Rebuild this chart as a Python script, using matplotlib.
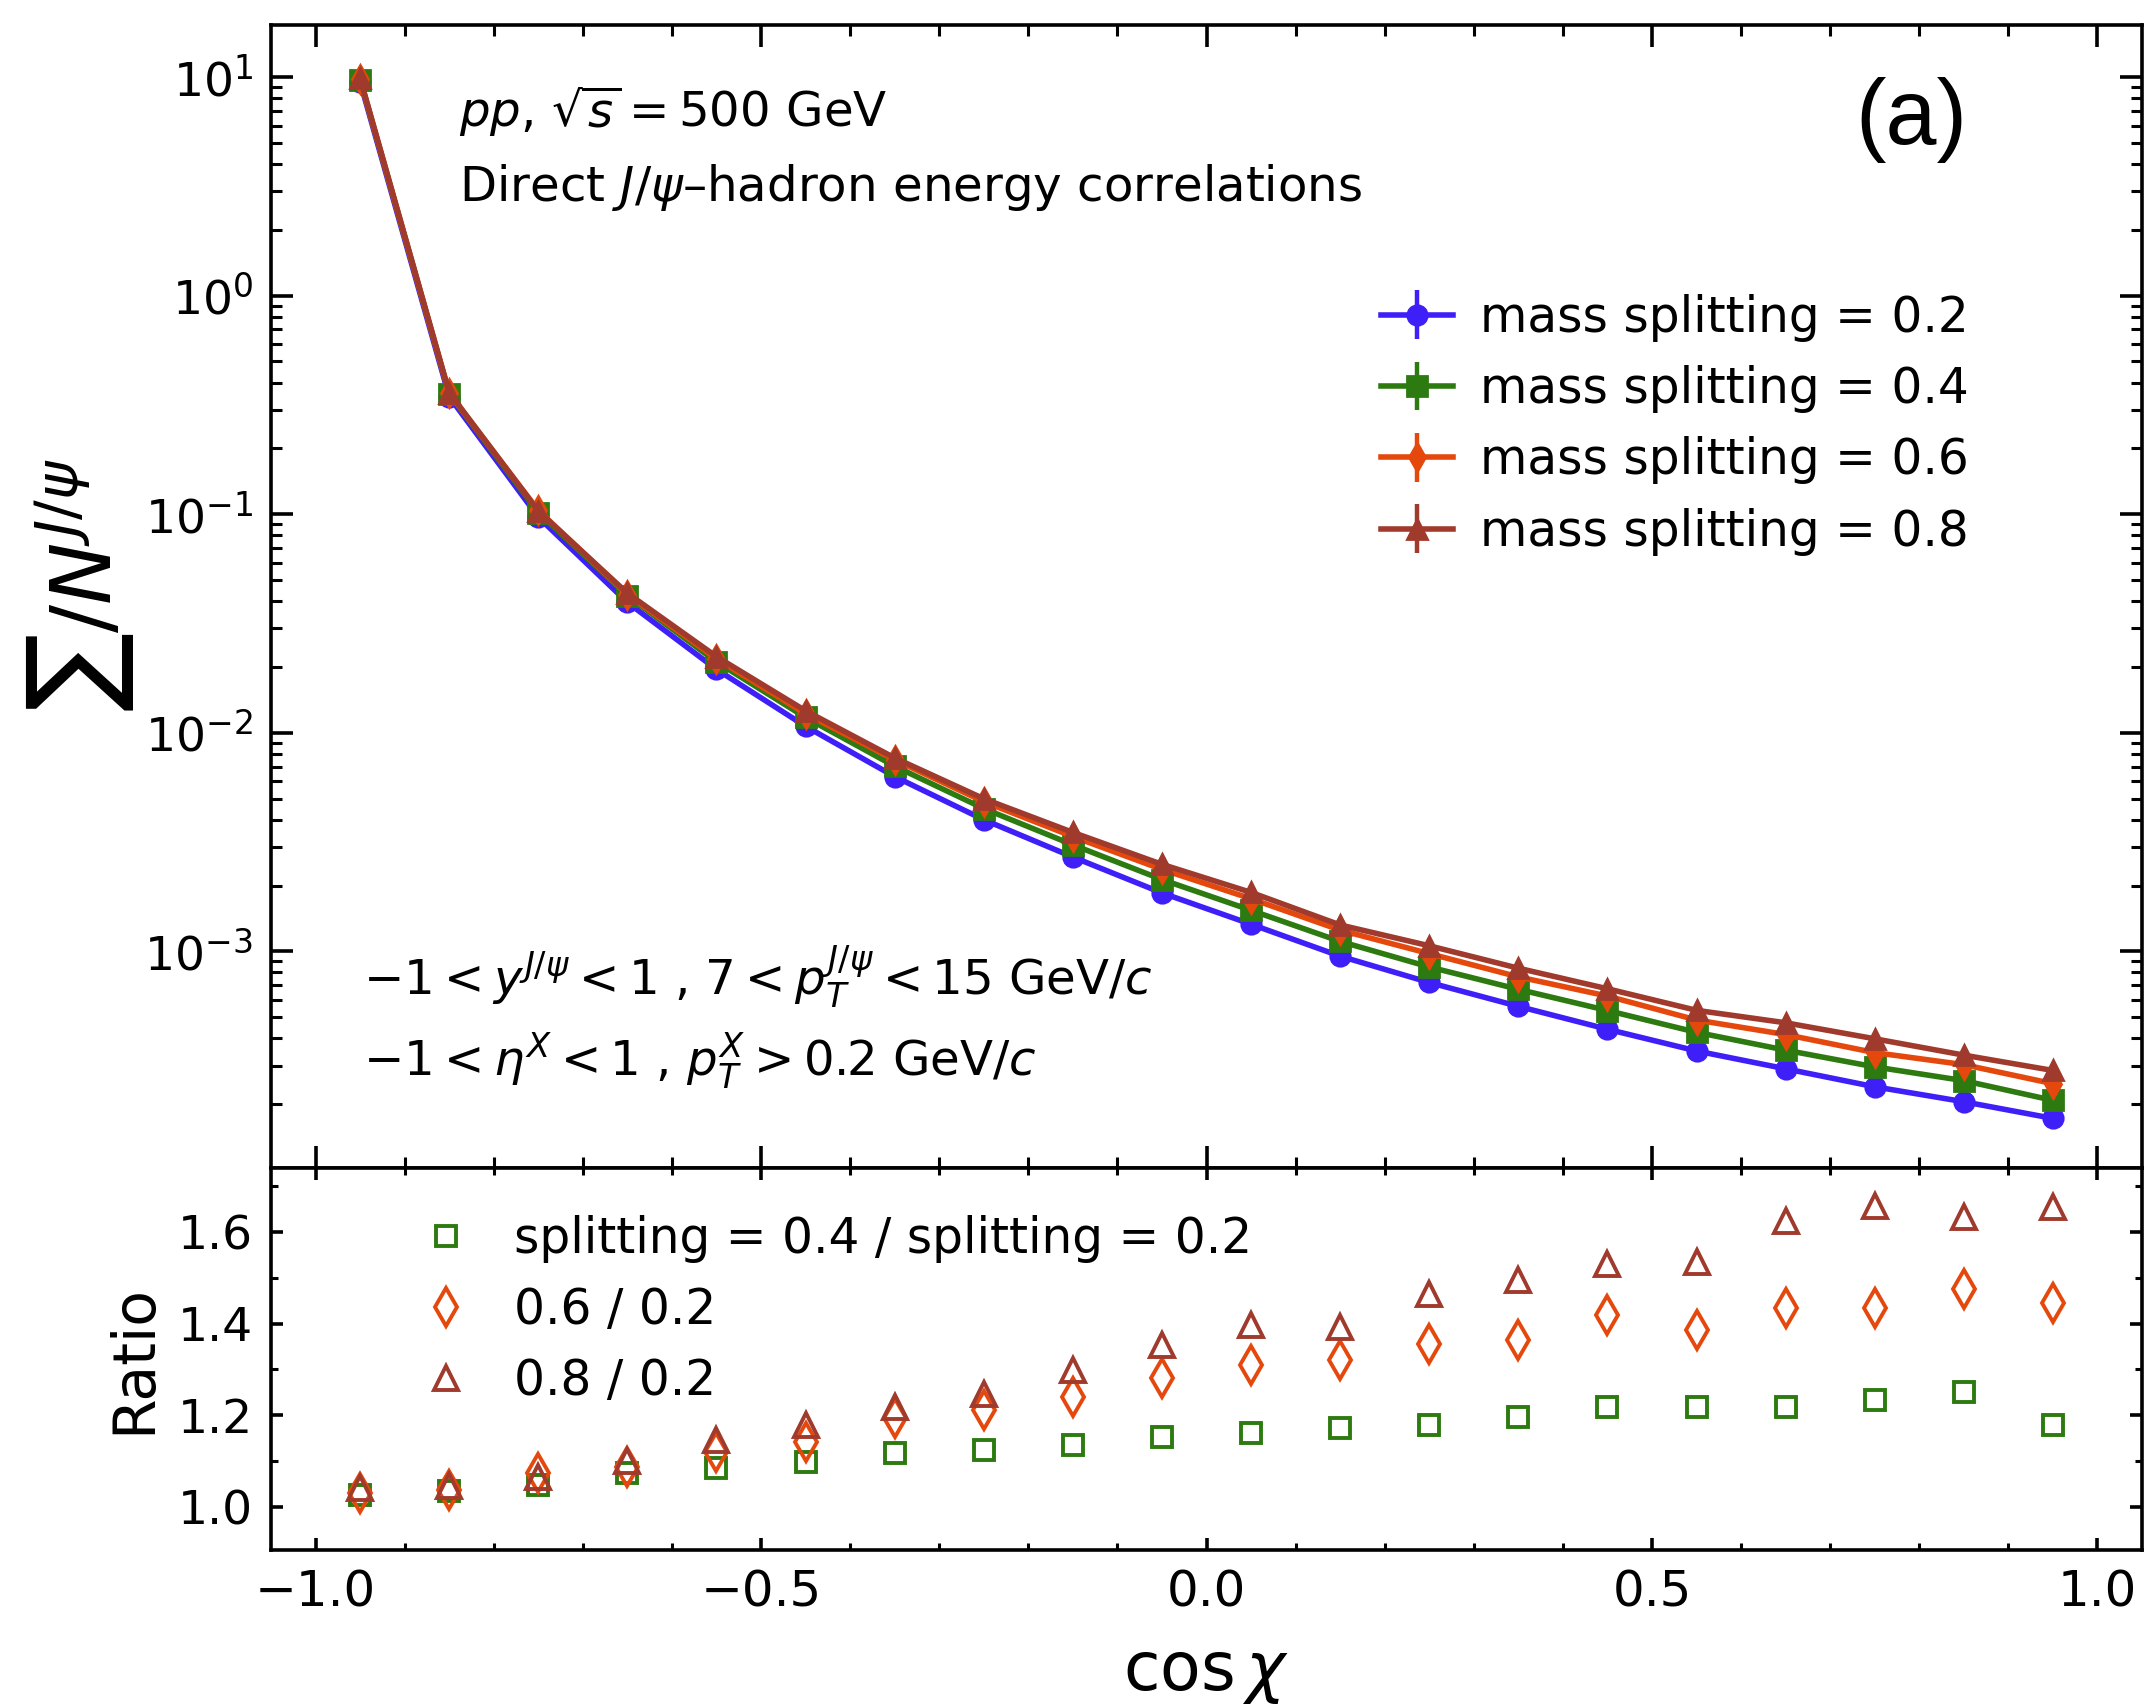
import numpy as np
import matplotlib
matplotlib.use("Agg")
import matplotlib.pyplot as plt
from matplotlib.ticker import MultipleLocator, LogLocator, NullFormatter

# ---------------- data ----------------
cos_chi = [-0.95, -0.85, -0.75, -0.65, -0.55, -0.45, -0.35, -0.25, -0.15, -0.05,
           0.05, 0.15, 0.25, 0.35, 0.45, 0.55, 0.65, 0.75, 0.85, 0.95]

split_02 = [9.5, 0.345, 0.097, 0.0395, 0.0195, 0.0107, 0.0063, 0.0040, 0.0027, 0.00185,
            0.00133, 0.00095, 0.00072, 0.00056, 0.00044, 0.00035, 0.00029, 0.00024, 0.000205, 0.000172]
split_04 = [9.74, 0.356, 0.1016, 0.0424, 0.0211, 0.01175, 0.00703, 0.0045, 0.00307, 0.00213,
            0.00154, 0.00111, 0.000848, 0.00067, 0.000536, 0.000426, 0.000353, 0.000296, 0.000256, 0.000208]
split_06 = [9.78, 0.357, 0.1041, 0.0429, 0.0218, 0.01222, 0.00752, 0.00484, 0.00335, 0.00237,
            0.00174, 0.00125, 0.000976, 0.000764, 0.000624, 0.000485, 0.000416, 0.000344, 0.000303, 0.000248]
split_08 = [9.88, 0.360, 0.1033, 0.0435, 0.0223, 0.0126, 0.00767, 0.00499, 0.0035, 0.0025,
            0.00186, 0.00132, 0.00106, 0.000837, 0.000674, 0.000537, 0.000471, 0.000398, 0.000335, 0.000285]

ratio_04 = [1.025, 1.033, 1.047, 1.073, 1.084, 1.098, 1.116, 1.124, 1.135, 1.153,
            1.160, 1.171, 1.178, 1.196, 1.218, 1.218, 1.218, 1.233, 1.251, 1.178]
ratio_06 = [1.029, 1.036, 1.073, 1.087, 1.120, 1.142, 1.193, 1.211, 1.240, 1.280,
            1.309, 1.320, 1.356, 1.364, 1.418, 1.385, 1.433, 1.433, 1.476, 1.444]
ratio_08 = [1.040, 1.044, 1.065, 1.100, 1.145, 1.178, 1.218, 1.247, 1.298, 1.353,
            1.396, 1.393, 1.465, 1.495, 1.531, 1.535, 1.625, 1.658, 1.633, 1.655]

main_labels = ["mass splitting = 0.2", "mass splitting = 0.4",
               "mass splitting = 0.6", "mass splitting = 0.8"]
ratio_labels = ["splitting = 0.4 / splitting = 0.2", "0.6 / 0.2", "0.8 / 0.2"]

# ---------------- style ----------------
c_blue = "#3f1ff7"
c_green = "#2d7a10"
c_orange = "#e5480c"
c_brown = "#a03a2c"

W, H = 2147, 1704
fig = plt.figure(figsize=(W / 200, H / 200), dpi=200)
L, R = 271, 2142
ax1 = fig.add_axes([L / W, 1 - 1168 / H, (R - L) / W, (1168 - 25) / H])
ax2 = fig.add_axes([L / W, 1 - 1550 / H, (R - L) / W, (1550 - 1168) / H], sharex=ax1)

series = [(split_02, c_blue, "o"), (split_04, c_green, "s"),
          (split_06, c_orange, "d"), (split_08, c_brown, "^")]
handles = []
for (vals, col, mk), lab in zip(series, main_labels):
    ax1.plot(cos_chi, vals, color=col, marker=mk, ms=7, lw=2.0, mec=col, mfc=col)
    h = ax1.errorbar([], [], yerr=[], color=col, marker=mk, ms=7, lw=2.0,
                     capsize=3.5, elinewidth=1.6, capthick=1.6, label=lab)
    handles.append(h)

ax1.set_yscale("log")
ax1.set_ylim(1.02e-4, 17.3)
ax1.set_xlim(-1.05, 1.05)

fs_txt = 17.4
ax1.text(0.1005, 0.911, r"$pp$, $\sqrt{s}=500$ GeV", transform=ax1.transAxes,
         fontsize=fs_txt, va="baseline", ha="left")
ax1.text(0.1005, 0.846, r"Direct $J/\psi$–hadron energy correlations", transform=ax1.transAxes,
         fontsize=fs_txt, va="baseline", ha="left")
ax1.text(0.8765, 0.917, "(a)", transform=ax1.transAxes, fontsize=33,
         family="Liberation Sans", va="center", ha="center")
ax1.text(0.049, 0.151, r"$-1 < y^{J/\psi} < 1$ , $7 < p_T^{J/\psi} < 15$ GeV/$c$",
         transform=ax1.transAxes, fontsize=fs_txt, va="baseline", ha="left")
ax1.text(0.049, 0.081, r"$-1 < \eta^{X} < 1$ , $p_T^{X} > 0.2$ GeV/$c$",
         transform=ax1.transAxes, fontsize=fs_txt, va="baseline", ha="left")

ax1.legend(handles=handles, loc="upper left", bbox_to_anchor=(0.593, 0.765),
           frameon=False, fontsize=17.5, borderpad=0, borderaxespad=0,
           handlelength=1.5, handletextpad=0.55, labelspacing=0.48)

ax1.set_ylabel(r"$\sum/N^{J/\psi}$", fontsize=30)
ax1.yaxis.set_label_coords(-0.072, 0.51)

# ratio panel
rseries = [(ratio_04, c_green, "s", 7.5), (ratio_06, c_orange, "d", 9.5), (ratio_08, c_brown, "^", 8.5)]
for (vals, col, mk, ms), lab in zip(rseries, ratio_labels):
    ax2.plot(cos_chi, vals, ls="none", marker=mk, ms=ms, mfc="none", mec=col, mew=1.4, label=lab)
ax2.set_ylim(0.905, 1.74)
ax2.legend(loc="upper left", bbox_to_anchor=(0.074, 0.878), frameon=False, fontsize=17.5,
           borderpad=0, borderaxespad=0, handlelength=1.5, handletextpad=0.65,
           labelspacing=0.48, numpoints=1)
ax2.set_ylabel("Ratio", fontsize=21)
ax2.yaxis.set_label_coords(-0.058, 0.5)
ax2.set_xlabel(r"$\cos\chi$", fontsize=24)
ax2.xaxis.set_label_coords(0.5, -0.235)

# ticks
ax1.xaxis.set_major_locator(MultipleLocator(0.5))
ax1.xaxis.set_minor_locator(MultipleLocator(0.1))
ax1.yaxis.set_major_locator(LogLocator(base=10, numticks=20))
ax1.yaxis.set_minor_locator(LogLocator(base=10, subs=np.arange(2, 10), numticks=20))
ax1.yaxis.set_minor_formatter(NullFormatter())
ax2.yaxis.set_major_locator(MultipleLocator(0.2))
ax2.yaxis.set_minor_locator(MultipleLocator(0.1))

for ax in (ax1, ax2):
    for s in ax.spines.values():
        s.set_linewidth(1.3)
ax1.tick_params(which="both", direction="in", top=True, right=True, labelbottom=False)
ax1.tick_params(which="major", length=8, width=1.3, labelsize=17, pad=6.5)
ax1.tick_params(which="minor", length=4, width=1.1)
ax2.tick_params(which="both", direction="in", top=True, right=True)
ax2.tick_params(which="major", length=4.2, width=1.3, labelsize=17, pad=6.5)
ax2.tick_params(which="minor", length=2.6, width=1.1)
ax2.tick_params(axis="x", which="major", labelsize=18)

fig.savefig("out.png", dpi=200)
